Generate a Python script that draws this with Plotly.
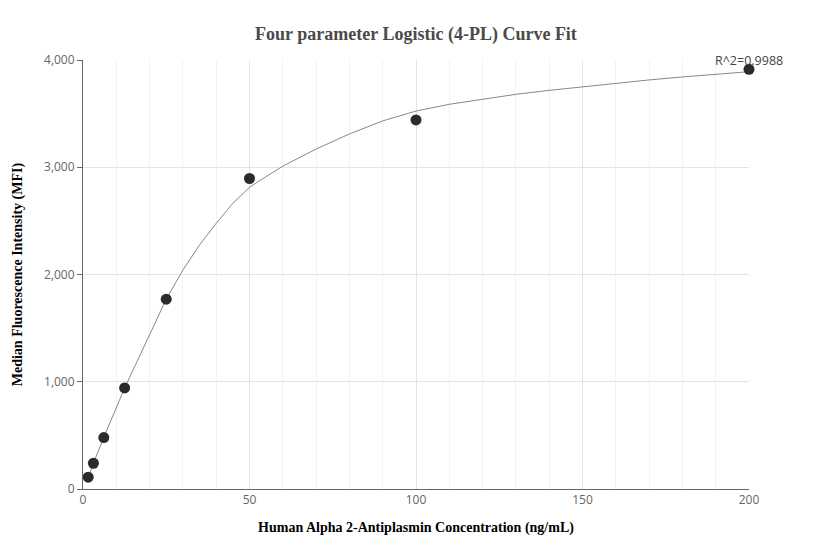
import plotly.graph_objects as go

# standards (ng/mL) and measured MFI
conc = [1.5625, 3.125, 6.25, 12.5, 25, 50, 100, 200]
mfi = [110, 240, 480, 942, 1770, 2895, 3441, 3913]

# fitted 4-PL curve
fit_x = [1.5625, 3.125, 6.25, 12.5, 25, 30, 35, 40, 45, 50, 53, 60,
         70, 80, 90, 100, 110, 120, 130, 140, 150, 160, 170, 180, 190, 200]
fit_y = [108, 240, 482, 942, 1770, 2042, 2275, 2477, 2664, 2812, 2875, 3010,
         3170, 3310, 3432, 3524, 3587, 3636, 3680, 3717, 3751, 3783, 3814, 3842, 3866, 3891]

r2_text = 'R^2=0.9988'

fit = go.Scatter(x=fit_x, y=fit_y, mode='lines', line=dict(color='#888888', width=1),
                 hoverinfo='skip', showlegend=False)
pts = go.Scatter(x=conc, y=mfi, mode='markers', marker=dict(color='#2b2b2b', size=11),
                 cliponaxis=False, showlegend=False)

fig = go.Figure(data=[fit, pts])
fig.update_layout(
    width=832, height=560,
    margin=dict(l=75, r=91, t=52, b=79),
    plot_bgcolor='white', paper_bgcolor='white',
    title=dict(text='<b>Four parameter Logistic (4-PL) Curve Fit</b>', xref='paper', x=0.5,
               xanchor='center', yref='container', y=0.955, yanchor='middle',
               font=dict(family='Liberation Serif', size=18, color='#4a4a4a')),
    annotations=[
        dict(x=200, y=4000, text=r2_text, showarrow=False, xanchor='center', yanchor='middle',
             font=dict(family='Open Sans', size=12.5, color='#444444')),
        # y axis title placed by hand so it does not push the plot area
        dict(xref='paper', yref='paper', x=-0.098, y=0.5, textangle=-90, showarrow=False,
             xanchor='center', yanchor='middle',
             text='<b>Median Fluorescence Intensity (MFI)</b>',
             font=dict(family='Liberation Serif', size=14, color='black')),
    ],
)
fig.update_xaxes(
    range=[0, 200], tickvals=[0, 50, 100, 150, 200],
    showline=True, linecolor='#666666', linewidth=1,
    showgrid=True, gridcolor='#dfe4ee', gridwidth=1,
    minor=dict(dtick=10, showgrid=True, gridcolor='#f0f2f7', gridwidth=1),
    zeroline=False, ticks='', automargin=False,
    tickfont=dict(family='Open Sans', size=12, color='#666666'),
    title=dict(text='<b>Human Alpha 2-Antiplasmin Concentration (ng/mL)</b>',
               font=dict(family='Liberation Serif', size=14, color='black'), standoff=14),
)
fig.update_yaxes(
    range=[0, 4000], dtick=1000, tickformat=',',
    showline=True, linecolor='#666666', linewidth=1,
    showgrid=True, gridcolor='#dfe4ee', gridwidth=1,
    zeroline=False, ticks='outside', ticklen=5, tickcolor='#666666', automargin=False,
    tickfont=dict(family='Open Sans', size=12, color='#666666'),
)

fig.write_html('out.html')
